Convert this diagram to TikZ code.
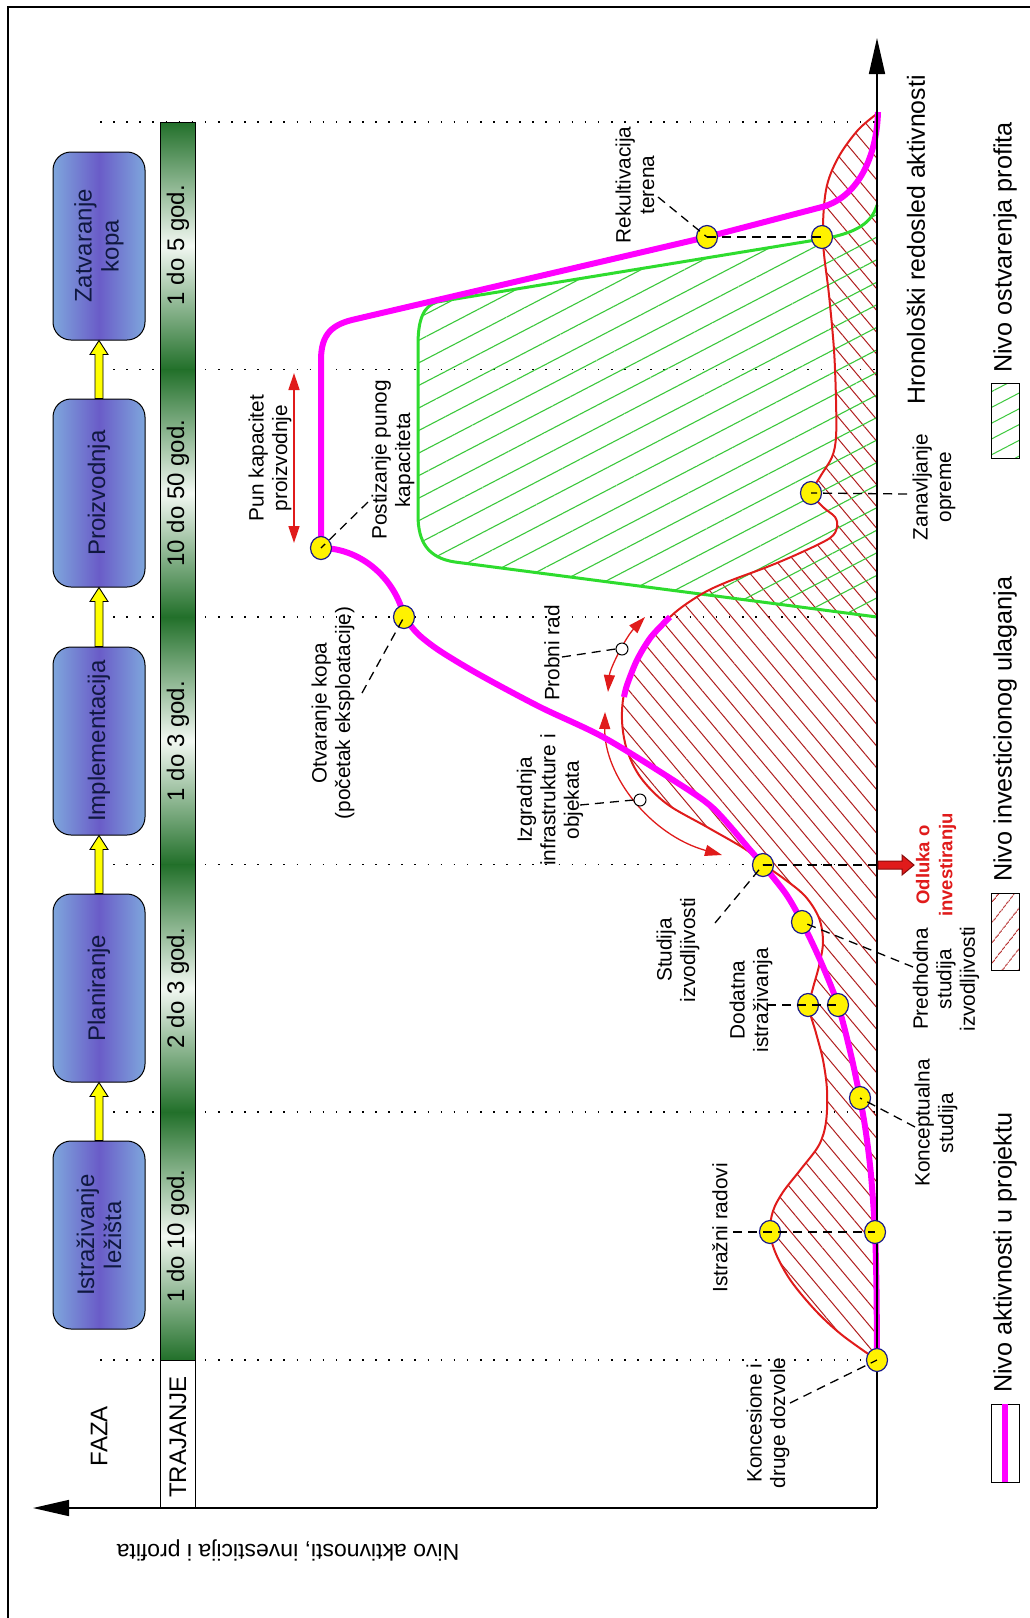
\documentclass[tikz,border=0pt]{standalone}
\usepackage{fontspec}
\setmainfont{Liberation Sans}
\usetikzlibrary{arrows.meta,calc,shapes.geometric,patterns.meta}
\definecolor{pinkc}{HTML}{FF00FF}
\definecolor{redc}{HTML}{E01B1B}
\definecolor{darkred}{HTML}{8A0A0A}
\definecolor{hatchred}{HTML}{B01E1E}
\definecolor{greenc}{HTML}{2EDC2E}
\definecolor{hatchgreen}{HTML}{3CC83C}
\definecolor{boxlight}{HTML}{7EA6DC}
\definecolor{boxmid}{HTML}{6A5CC8}
\definecolor{barDark}{HTML}{22702A}
\definecolor{barLight}{HTML}{F2F8F2}
\definecolor{dotedge}{HTML}{1A1A8C}
\definecolor{boxtext}{HTML}{101840}
\definecolor{yarrow}{HTML}{FFFF00}
\begin{document}
\begin{tikzpicture}[x=1pt,y=-1pt,
  lbl/.style={font=\fontsize{20.8}{23.5}\selectfont, align=center, rotate=90, inner sep=0pt},
  phase/.style={draw=black, line width=1pt, rounded corners=18pt, minimum width=188pt, minimum height=92pt, rotate=90, left color=boxlight, right color=boxlight, middle color=boxmid, font=\fontsize{24}{27}\selectfont, text=boxtext, align=center, inner sep=0pt},
  bartext/.style={font=\fontsize{24}{27}\selectfont, rotate=90, inner sep=0pt},
  ydot/.style={ellipse, draw=dotedge, fill=yellow, line width=1.2pt, minimum width=21pt, minimum height=23pt, inner sep=0pt},
  sdot/.style={circle, draw=black, fill=white, line width=1pt, minimum size=12pt, inner sep=0pt},
  leader/.style={draw=black, line width=1.3pt, dash pattern=on 9pt off 6pt},
  dotline/.style={draw=black, line width=1.6pt, dash pattern=on 1.6pt off 11.5pt},
  axisline/.style={draw=black, line width=1.6pt},
  pinkline/.style={draw=pinkc, line width=6pt, line join=round},
  thinred/.style={draw=redc, line width=1.3pt, {Triangle[length=17pt,width=11pt]}-{Triangle[length=17pt,width=11pt]}},
  legendtext/.style={font=\fontsize{25.2}{28}\selectfont, rotate=90, inner sep=0pt, anchor=west},
  yarr/.style={fill=yarrow, draw=black, line width=0.9pt},
]
\useasboundingbox (0,0) rectangle (1030,1618);
\fill[white] (0,0) rectangle (1030,1618);
\draw[line width=1.5pt] (8,1618) -- (8,7);
\draw[line width=2.2pt] (7,7) -- (1030,7);

% dotted phase separators
\foreach \yy in {122,369.5,617,864.5,1112,1360} \draw[dotline] (100,\yy) -- (877,\yy);

% duration strip
\foreach \a/\b in {122/369.5,369.5/617,617/864.5,864.5/1112,1112/1360}
  \shade[top color=barDark,bottom color=barDark,middle color=barLight] (160,\a) rectangle (195,\b);
\draw[line width=1pt] (160,122) rectangle (195,1508);
\draw[line width=1pt] (160,1360) -- (195,1360);
\node[bartext] (d5) at (178,245) {1 do 5 god.};
\node[bartext] (d4) at (178,493) {10 do 50 god.};
\node[bartext] (d3) at (178,741) {1 do 3 god.};
\node[bartext] (d2) at (178,988) {2 do 3 god.};
\node[bartext] (d1) at (178,1236) {1 do 10 god.};
\node[bartext] (traj) at (178,1437) {TRAJANJE};
\node[bartext] (faza) at (99,1436) {FAZA};

% phase boxes
\node[phase] (ph1) at (99,1235) {Istraživanje\\ležišta};
\node[phase] (ph2) at (99,988) {Planiranje};
\node[phase] (ph3) at (99,741) {Implementacija};
\node[phase] (ph4) at (99,493) {Proizvodnja};
\node[phase] (ph5) at (99,246) {Zatvaranje\\kopa};
\foreach \lo/\hi in {ph1/ph2,ph2/ph3,ph3/ph4,ph4/ph5}
  \draw[yarr] ($(\lo.east)+(-4,0)$) -- ($(\hi.west)+(-4,14)$) -- ($(\hi.west)+(-9,14)$) -- (\hi.west)
     -- ($(\hi.west)+(9,14)$) -- ($(\hi.west)+(4,14)$) -- ($(\lo.east)+(4,0)$) -- cycle;

% investment region (red)
\path[pattern={Lines[angle=-50,distance=14pt,line width=1pt]}, pattern color=hatchred]
  plot[smooth,tension=0.55] coordinates {(877,1360) (842,1335) (816,1311) (791,1281) (776,1254) (770,1232) (773,1211) (783,1192) (801,1169) (819,1145) (826,1122) (827,1090) (823,1060) (816,1033) (809,1007) (813,988) (819,966) (823,942) (819,918) (805,896) (783,878) (763,864) (745,849) (707,827) (667,804) (641,778) (627,750) (622,720) (625,690) (640,653) (670,617) (700,595) (727,582) (767,567) (800,553) (830,538) (837,527) (835,517) (823,507) (812,493) (820,477) (832,457) (836,437) (836,400) (834,350) (829,295) (823,240) (826,190) (838,158) (858,130) (878,113)} -- cycle;
% profit region (green)
\path[pattern={Lines[angle=27.5,distance=20pt,line width=1.1pt]}, pattern color=hatchgreen]
  (877,617) -- (455,562) .. controls (428,558) and (418,542) .. (418,515) -- (418,345)
  .. controls (418,318) and (424,306) .. (437,302) -- (822,239) .. controls (858,233) and (872,222) .. (877,205) -- cycle;
\draw[greenc, line width=3pt]
  (877,617) -- (455,562) .. controls (428,558) and (418,542) .. (418,515) -- (418,345)
  .. controls (418,318) and (424,306) .. (437,302) -- (822,239) .. controls (858,233) and (872,222) .. (877,205);
\draw[redc, line width=2pt]
  plot[smooth,tension=0.55] coordinates {(877,1360) (842,1335) (816,1311) (791,1281) (776,1254) (770,1232) (773,1211) (783,1192) (801,1169) (819,1145) (826,1122) (827,1090) (823,1060) (816,1033) (809,1007) (813,988) (819,966) (823,942) (819,918) (805,896) (783,878) (763,864) (745,849) (707,827) (667,804) (641,778) (627,750) (622,720) (625,690) (640,653) (670,617) (700,595) (727,582) (767,567) (800,553) (830,538) (837,527) (835,517) (823,507) (812,493) (820,477) (832,457) (836,437) (836,400) (834,350) (829,295) (823,240) (826,190) (838,158) (858,130) (878,113)};

% thin red arcs with small circles
\draw[thinred] (608,692) .. controls (610,668) and (626,637) .. (645,617);
\draw[thinred] (605,712) .. controls (604,775) and (650,835) .. (722,855);
\node[sdot] (cProb) at (622,649) {};
\node[sdot] (cIzg) at (640,800) {};

% activity level (pink)
\draw[pinkline] plot[smooth,tension=0.5] coordinates {(670,617) (651,637) (637,660) (627,685) (624,697)};
\draw[pinkline] plot[smooth,tension=0.5] coordinates {(877,1360) (876.5,1290) (875,1232) (871,1175) (866,1133) (860,1098) (851,1055) (838,1005) (821,962) (802,922) (786,894) (763,865) (751,851) (713,808) (673,780) (603,737) (540,707) (480,675) (440,651) (418,634) (404,617)}
  .. controls (396,580) and (362,548) .. (321,548) -- (321,360) .. controls (321,333) and (333,324) .. (356,319)
  -- (707,237) -- (822,207) .. controls (862,196) and (877,150) .. (878,112);

% full capacity arrow
\coordinate (pkTop) at (294,373);
\coordinate (pkBot) at (294,543);
\draw[thinred, line width=1.5pt] (pkBot) -- (pkTop);

% axes
\coordinate (org) at (877,1508);
\coordinate (xend) at (877,38);
\coordinate (yend) at (33,1508);
\draw[axisline, -{Triangle[length=36pt,width=16pt]}] (org) -- (xend);
\draw[axisline, -{Triangle[length=36pt,width=16pt]}] (org) -- (yend);

% milestone dots
\node[ydot] (dKon) at (877,1360) {};
\node[ydot] (dIstR) at (770,1232) {};
\node[ydot] (dIstP) at (875,1232) {};
\node[ydot] (dKonc) at (860,1098) {};
\node[ydot] (dDodR) at (808,1005) {};
\node[ydot] (dDodP) at (838,1005) {};
\node[ydot] (dPred) at (802,922) {};
\node[ydot] (dStud) at (763,865) {};
\node[ydot] (dOtv) at (404,617) {};
\node[ydot] (dPost) at (321,548) {};
\node[ydot] (dZan) at (811,493) {};
\node[ydot] (dRekP) at (707,237) {};
\node[ydot] (dRekG) at (822,237) {};

% decision arrow
\coordinate (odl) at (877,865);
\draw[leader] (dStud.center) -- (odl);
\draw[fill=redc, draw=darkred, line width=1pt] ($(odl)+(1,-4)$) -- ($(odl)+(25,-4)$) -- ($(odl)+(25,-10)$) -- ($(odl)+(37,0)$)
  -- ($(odl)+(25,10)$) -- ($(odl)+(25,4)$) -- ($(odl)+(1,4)$) -- cycle;

% labels
\node[lbl] (lRek) at (635,185) {Rekultivacija\\terena};
\node[lbl] (lPun) at (270,458) {Pun kapacitet\\proizvodnje};
\node[lbl] (lPost) at (393,460) {Postizanje punog\\kapaciteta};
\node[lbl] (lOtv) at (333,713) {Otvaranje kopa\\(početak eksploatacije)};
\node[lbl] (lProb) at (552,653) {Probni rad};
\node[lbl] (lIzg) at (550,800) {Izgradnja\\infrastrukture i\\objekata};
\node[lbl] (lStud) at (678,950) {Studija\\izvodljivosti};
\node[lbl, text=redc, font=\bfseries\fontsize{18.5}{23}\selectfont] (lOdl) at (936,865) {Odluka o\\investiranju};
\node[lbl] (lPred) at (946,979) {Predhodna\\studija\\izvodljivosti};
\node[lbl] (lDod) at (751,1000) {Dodatna\\istraživanja};
\node[lbl] (lKonc) at (936,1123) {Konceptualna\\studija};
\node[lbl] (lIst) at (720,1228) {Istražni radovi};
\node[lbl] (lKon) at (768,1423) {Koncesione i\\druge dozvole};
\node[lbl] (lZan) at (934,487) {Zanavljanje\\opreme};

% leaders
\coordinate (eRek) at (658,197);
\coordinate (ePost) at (368,502);
\coordinate (eOtv) at (362,693);
\coordinate (eProb) at (562,657);
\coordinate (eIzg) at (580,805);
\coordinate (eStud) at (715,923);
\coordinate (ePred) at (913,967);
\coordinate (eDod) at (767,1005);
\coordinate (eKonc) at (915,1127);
\coordinate (eIst) at (733,1232);
\coordinate (eKon) at (790,1403);
\coordinate (eZan) at (907,494);
\draw[leader] (eRek) -- (dRekP.center);
\draw[leader] (dRekP.center) -- (dRekG.center);
\draw[leader] (ePost) -- (dPost.center);
\draw[leader] (eOtv) -- (dOtv.center);
\draw[leader] (eProb) -- (cProb.west);
\draw[leader] (eIzg) -- (cIzg.west);
\draw[leader] (eStud) -- (dStud.center);
\draw[leader] (ePred) -- (dPred.center);
\draw[leader] (eDod) -- (dDodR.center) -- (dDodP.center);
\draw[leader] (eKonc) -- (dKonc.center);
\draw[leader] (eIst) -- (dIstR.center) -- (dIstP.center);
\draw[leader] (eKon) -- (dKon.center);
\draw[leader] (eZan) -- (dZan.center);

% axis titles
\node[legendtext, font=\fontsize{24.8}{28}\selectfont] (xlab) at (916,405) {Hronološki redosled aktivnosti};
\node[font=\fontsize{23}{26}\selectfont, rotate=180, inner sep=0pt] (ylab) at (288,1550) {Nivo aktivnosti, investicija i profita};

% legend
\draw[line width=1pt] (991,1404) rectangle (1019,1482);
\draw[pinkc, line width=6pt] (1005,1404) -- (1005,1482);
\node[legendtext] (lg1) at (1005,1393) {Nivo aktivnosti u projektu};
\draw[line width=1pt, pattern={Lines[angle=52,distance=13pt,line width=1pt]}, pattern color=hatchred] (991,893) rectangle (1019,970);
\node[legendtext] (lg2) at (1005,882) {Nivo investicionog ulaganja};
\draw[line width=1pt, pattern={Lines[angle=27.5,distance=14pt,line width=1pt]}, pattern color=hatchgreen] (991,383) rectangle (1019,458);
\node[legendtext] (lg3) at (1005,373) {Nivo ostvarenja profita};
\end{tikzpicture}
\end{document}
